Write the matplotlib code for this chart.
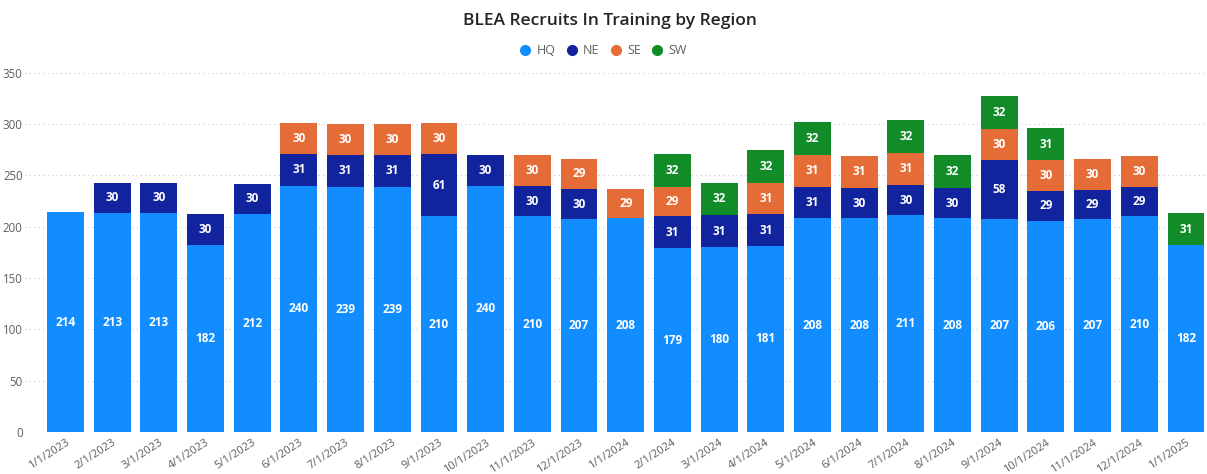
import matplotlib.pyplot as plt
import numpy as np

plt.rcParams['font.family'] = ['Open Sans', 'DejaVu Sans']

months = ['1/1/2023', '2/1/2023', '3/1/2023', '4/1/2023', '5/1/2023', '6/1/2023',
          '7/1/2023', '8/1/2023', '9/1/2023', '10/1/2023', '11/1/2023', '12/1/2023',
          '1/1/2024', '2/1/2024', '3/1/2024', '4/1/2024', '5/1/2024', '6/1/2024',
          '7/1/2024', '8/1/2024', '9/1/2024', '10/1/2024', '11/1/2024', '12/1/2024',
          '1/1/2025']
hq = [214, 213, 213, 182, 212, 240, 239, 239, 210, 240, 210, 207, 208,
      179, 180, 181, 208, 208, 211, 208, 207, 206, 207, 210, 182]
ne = [0, 30, 30, 30, 30, 31, 31, 31, 61, 30, 30, 30, 0,
      31, 31, 31, 31, 30, 30, 30, 58, 29, 29, 29, 0]
se = [0, 0, 0, 0, 0, 30, 30, 30, 30, 0, 30, 29, 29,
      29, 0, 31, 31, 31, 31, 0, 30, 30, 30, 30, 0]
sw = [0, 0, 0, 0, 0, 0, 0, 0, 0, 0, 0, 0, 0,
      32, 32, 32, 32, 0, 32, 32, 32, 31, 0, 0, 31]

regions = ['HQ', 'NE', 'SE', 'SW']
colors = ['#118DFF', '#12239E', '#E66C37', '#118C28']
series = [hq, ne, se, sw]

fig = plt.figure(figsize=(12.07, 4.74), dpi=100)
ax = fig.add_axes([0.021, 0.089, 0.979, 0.779])

x = np.arange(len(months))
bottom = np.zeros(len(months))
for name, vals, col in zip(regions, series, colors):
    vals = np.array(vals, dtype=float)
    ax.bar(x, vals, width=0.79, bottom=bottom, color=col, label=name,
           edgecolor='none', zorder=2)
    for xi, b, v in zip(x, bottom, vals):
        if v > 0:
            ax.text(xi, b + v / 2, f'{int(v)}', ha='center', va='center',
                    color='white', fontsize=8.5, fontweight='bold', zorder=3)
    bottom += vals

ax.set_xlim(-0.86, len(months) - 0.55)
ax.set_ylim(0, 360)
ax.set_yticks(range(0, 351, 50))
ax.yaxis.grid(True, linestyle=(0, (1, 3)), color='#C8C8C8', linewidth=0.8, zorder=0)
ax.set_axisbelow(True)
for s in ax.spines.values():
    s.set_visible(False)
ax.tick_params(axis='both', length=0, colors='#605E5C')
ax.tick_params(axis='y', pad=2, labelsize=8.3)
ax.tick_params(axis='x', pad=4, labelsize=8)
ax.set_xticks(x)
ax.set_xticklabels(months, rotation=33, ha='right', rotation_mode='anchor')

fig.text(0.505, 0.955, 'BLEA Recruits In Training by Region', ha='center', va='center',
         fontsize=12.5, color='#252423', fontweight='semibold')

leg = fig.legend(loc='center', bbox_to_anchor=(0.497, 0.893), ncol=4, frameon=False,
                 handles=[plt.Line2D([], [], marker='o', linestyle='', color=c,
                                     markersize=7) for c in colors],
                 labels=regions, fontsize=9, handletextpad=-0.1, columnspacing=0.3,
                 labelcolor='#605E5C')

fig.savefig('out.png', dpi=100)
